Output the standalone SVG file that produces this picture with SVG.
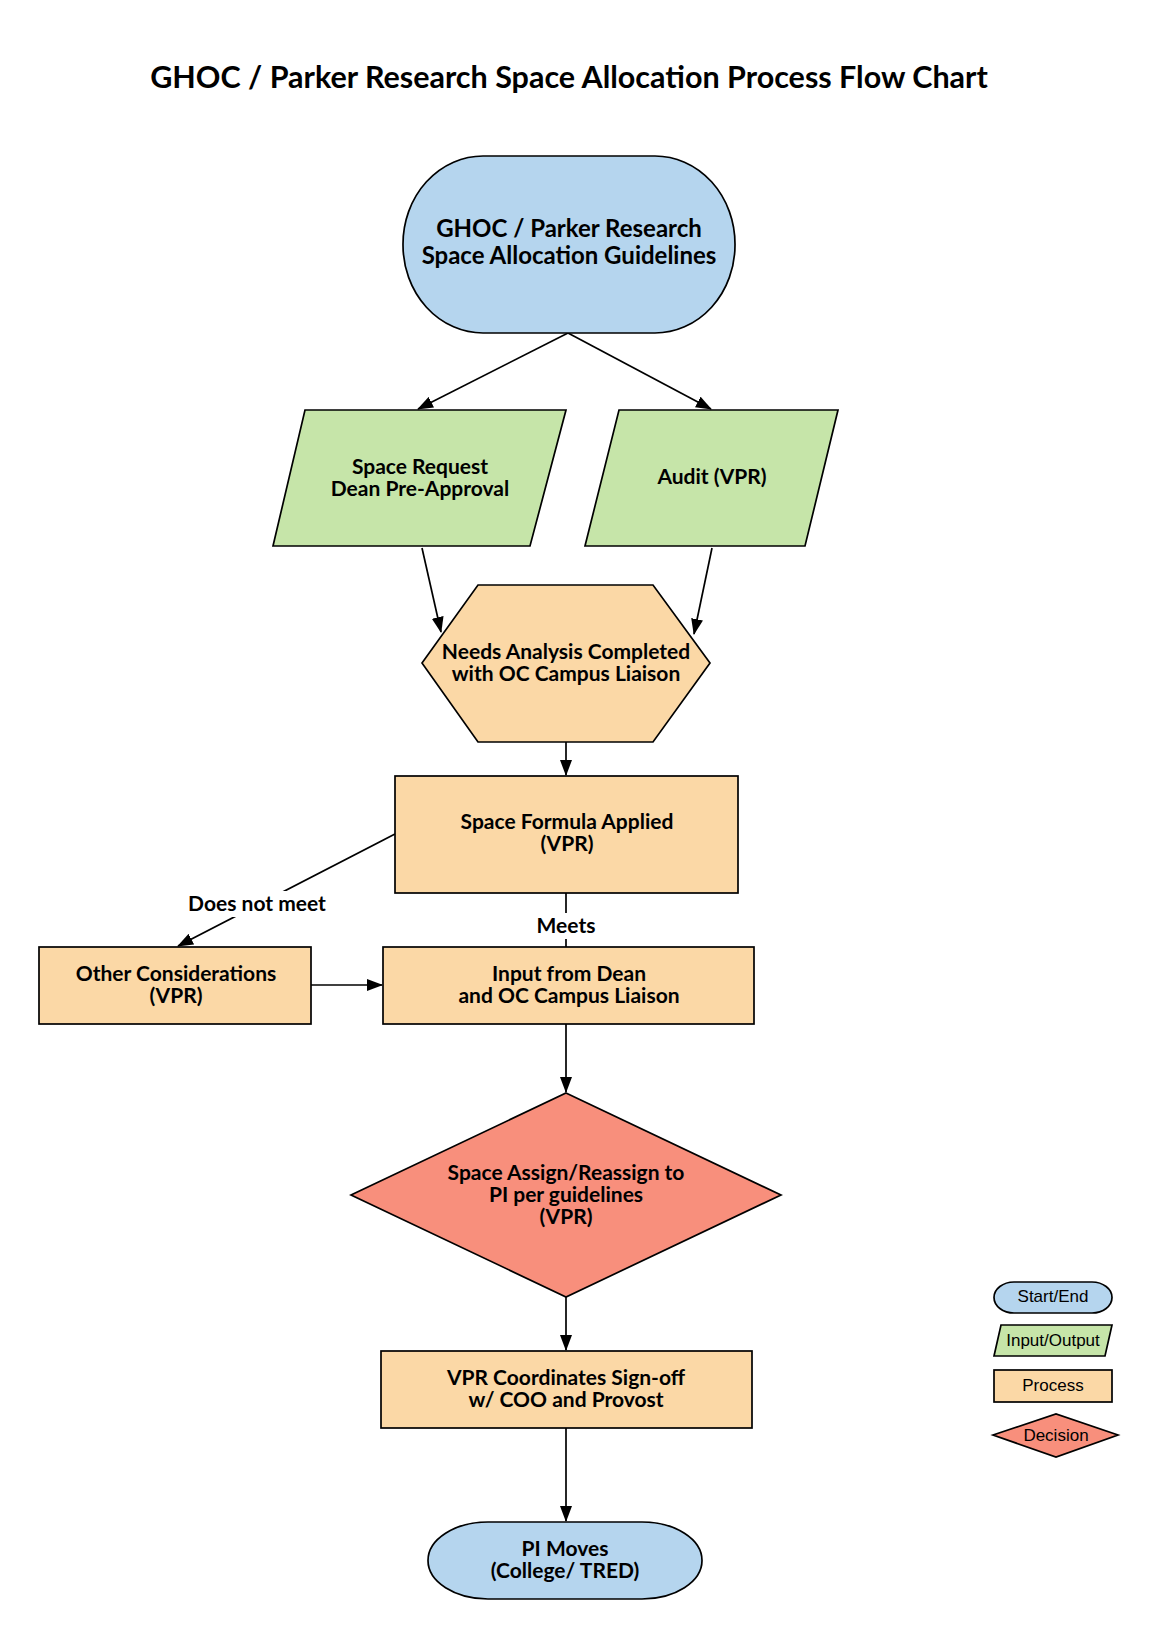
<svg xmlns="http://www.w3.org/2000/svg" width="1156" height="1639" viewBox="0 0 1156 1639">
<defs>
<marker id="arr" markerUnits="userSpaceOnUse" markerWidth="16" markerHeight="12" refX="15" refY="6" orient="auto">
<path d="M0,0 L16,6 L0,12 Z" fill="#000"/>
</marker>
<style>
.n{stroke:#000;stroke-width:1.7}
.se{fill:#b5d5ee}
.io{fill:#c6e5a9}
.pr{fill:#fbd8a6}
.de{fill:#f88f7c}
.t{font-family:Lato,"Liberation Sans",sans-serif;font-weight:bold;font-size:21px;fill:#000;text-anchor:middle}
.lg{font-family:"Liberation Sans",Arial,sans-serif;font-size:17px;fill:#000;text-anchor:middle}
.c{stroke:#000;stroke-width:1.7;fill:none}
</style>
</defs>
<rect width="1156" height="1639" fill="#fff"/>
<text x="569" y="88" style="font-family:Lato,'Liberation Sans',sans-serif;font-weight:bold;font-size:30.5px;text-anchor:middle">GHOC / Parker Research Space Allocation Process Flow Chart</text>

<g id="connectors">
<line class="c" x1="568" y1="333" x2="418" y2="409" marker-end="url(#arr)"/>
<line class="c" x1="568" y1="333" x2="711" y2="409" marker-end="url(#arr)"/>
<line class="c" x1="422" y1="548" x2="441" y2="632" marker-end="url(#arr)"/>
<line class="c" x1="712" y1="548" x2="694" y2="634" marker-end="url(#arr)"/>
<line class="c" x1="566" y1="742" x2="566" y2="775" marker-end="url(#arr)"/>
<line class="c" x1="395" y1="834" x2="178" y2="946" marker-end="url(#arr)"/>
<line class="c" x1="566" y1="893" x2="566" y2="947"/>
<line class="c" x1="311" y1="985" x2="382" y2="985" marker-end="url(#arr)"/>
<line class="c" x1="566" y1="1024" x2="566" y2="1092" marker-end="url(#arr)"/>
<line class="c" x1="566" y1="1297" x2="566" y2="1350" marker-end="url(#arr)"/>
<line class="c" x1="566" y1="1428" x2="566" y2="1521" marker-end="url(#arr)"/>
<rect x="184" y="891" width="146" height="26" fill="#fff"/>
<text class="t" x="257" y="911">Does not meet</text>
<rect x="531" y="913" width="70" height="26" fill="#fff"/>
<text class="t" x="566" y="933">Meets</text>
</g>

<g id="start">
<rect class="n se" x="403" y="156" width="332" height="177" rx="80" ry="88"/>
<text class="t" x="569" y="237" style="font-size:24px">GHOC / Parker Research</text>
<text class="t" x="569" y="264" style="font-size:24px">Space Allocation Guidelines</text>
</g>

<g id="space-request">
<polygon class="n io" points="305,410 566,410 530,546 273,546"/>
<text class="t" x="420" y="474">Space Request</text>
<text class="t" x="420" y="496">Dean Pre-Approval</text>
</g>

<g id="audit">
<polygon class="n io" points="619,410 838,410 805,546 585,546"/>
<text class="t" x="712" y="484">Audit (VPR)</text>
</g>

<g id="needs-analysis">
<polygon class="n pr" points="478,585 653,585 710,663 653,742 478,742 422,663"/>
<text class="t" x="566" y="659">Needs Analysis Completed</text>
<text class="t" x="566" y="681">with OC Campus Liaison</text>
</g>

<g id="space-formula">
<rect class="n pr" x="395" y="776" width="343" height="117"/>
<text class="t" x="567" y="829">Space Formula Applied</text>
<text class="t" x="567" y="851">(VPR)</text>
</g>

<g id="other-considerations">
<rect class="n pr" x="39" y="947" width="272" height="77"/>
<text class="t" x="176" y="981">Other Considerations</text>
<text class="t" x="176" y="1003">(VPR)</text>
</g>

<g id="input-dean">
<rect class="n pr" x="383" y="947" width="371" height="77"/>
<text class="t" x="569" y="981">Input from Dean</text>
<text class="t" x="569" y="1003">and OC Campus Liaison</text>
</g>

<g id="decision">
<polygon class="n de" points="566,1093 781,1195 566,1297 351,1195"/>
<text class="t" x="566" y="1180">Space Assign/Reassign to</text>
<text class="t" x="566" y="1202">PI per guidelines</text>
<text class="t" x="566" y="1224">(VPR)</text>
</g>

<g id="vpr-signoff">
<rect class="n pr" x="381" y="1351" width="371" height="77"/>
<text class="t" x="566" y="1385">VPR Coordinates Sign-off</text>
<text class="t" x="566" y="1407">w/ COO and Provost</text>
</g>

<g id="pi-moves">
<rect class="n se" x="428" y="1522" width="274" height="77" rx="60" ry="38.5"/>
<text class="t" x="565" y="1556">PI Moves</text>
<text class="t" x="565" y="1578">(College/ TRED)</text>
</g>

<g id="legend">
<rect class="n se" x="994" y="1282" width="118" height="31" rx="20" ry="15.5"/>
<text class="lg" x="1053" y="1302">Start/End</text>
<polygon class="n io" points="1001,1325 1112,1325 1105,1356 994,1356"/>
<text class="lg" x="1053" y="1346">Input/Output</text>
<rect class="n pr" x="994" y="1370" width="118" height="32"/>
<text class="lg" x="1053" y="1391">Process</text>
<polygon class="n de" points="993,1435 1056,1414 1118,1435 1056,1457"/>
<text class="lg" x="1056" y="1441">Decision</text>
</g>
</svg>
